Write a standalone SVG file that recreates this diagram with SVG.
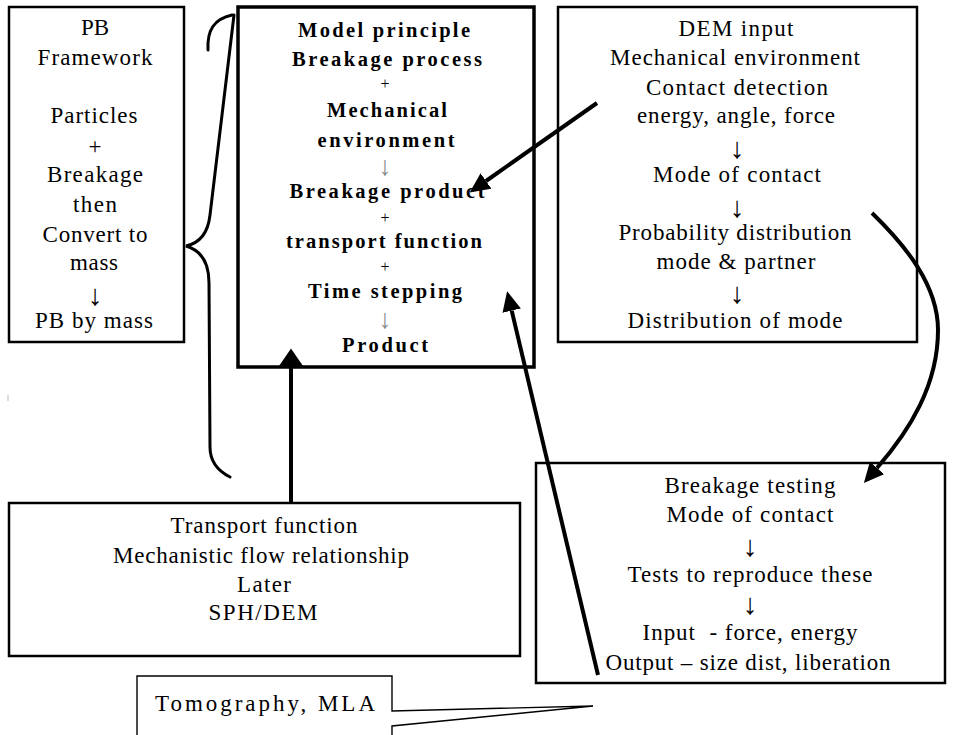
<svg xmlns="http://www.w3.org/2000/svg" width="955" height="735" viewBox="0 0 955 735" font-family="Liberation Serif, Times New Roman, serif">
<style>
.box{fill:#fff;stroke:#000;stroke-width:2.5}
.main{fill:#fff;stroke:#000;stroke-width:3.5}
text{font-family:"Liberation Serif","Times New Roman",serif}
.t{font-size:23px;fill:#000;text-anchor:middle}
.b{font-size:20.5px;font-weight:bold;fill:#000;text-anchor:middle}
.s{font-size:16px;fill:#000;text-anchor:middle}
.g{font-size:27px;fill:#8c8c8c;text-anchor:middle}
.ar{font-size:29px;fill:#000;text-anchor:middle}
.con{fill:none;stroke:#000;stroke-width:4}
.brace{fill:none;stroke:#000;stroke-width:3;stroke-linecap:round}
</style>
<defs>
<marker id="ah" markerUnits="userSpaceOnUse" markerWidth="20" markerHeight="20" refX="0" refY="8" orient="auto" viewBox="0 0 17 16">
<path d="M0,0 L17,8 L0,16 z" fill="#000"/>
</marker>
<marker id="ahBig" markerUnits="userSpaceOnUse" markerWidth="24" markerHeight="24" refX="0" refY="11" orient="auto" viewBox="0 0 16 22">
<path d="M0,0 L16,11 L0,22 z" fill="#000"/>
</marker>
</defs>

<g id="pb-framework">
<rect class="box" x="9" y="7" width="175" height="335"/>
<text class="t" x="95" y="35" textLength="28">PB</text>
<text class="t" x="95" y="65" textLength="115">Framework</text>
<text class="t" x="94" y="123" textLength="87">Particles</text>
<text class="t" x="95" y="154">+</text>
<text class="t" x="95" y="182" textLength="96">Breakage</text>
<text class="t" x="95" y="212" textLength="44">then</text>
<text class="t" x="95" y="242" textLength="105">Convert to</text>
<text class="t" x="94" y="270" textLength="48">mass</text>
<text class="ar" x="95" y="305">↓</text>
<text class="t" x="94" y="328" textLength="118">PB by mass</text>
</g>

<g id="model-principle">
<rect class="main" x="238" y="7" width="296" height="360"/>
<text class="b" x="384" y="37" textLength="172">Model principle</text>
<text class="b" x="387" y="66" textLength="190">Breakage process</text>
<text class="s" x="385" y="89">+</text>
<text class="b" x="387" y="117" textLength="120">Mechanical</text>
<text class="b" x="386" y="147" textLength="137">environment</text>
<text class="g" x="385" y="175">↓</text>
<text class="b" x="387" y="198" textLength="195">Breakage product</text>
<text class="s" x="385" y="223">+</text>
<text class="b" x="384" y="248" textLength="196">transport function</text>
<text class="s" x="385" y="272">+</text>
<text class="b" x="385" y="298" textLength="154">Time stepping</text>
<text class="g" x="385" y="328">↓</text>
<text class="b" x="385" y="352" textLength="86">Product</text>
</g>

<g id="dem-input">
<rect class="box" x="558" y="7" width="359" height="335"/>
<text class="t" x="736" y="36" textLength="115">DEM input</text>
<text class="t" x="735" y="65" textLength="250">Mechanical environment</text>
<text class="t" x="737" y="95" textLength="182">Contact detection</text>
<text class="t" x="736" y="123" textLength="198">energy, angle, force</text>
<text class="ar" x="737" y="158">↓</text>
<text class="t" x="737" y="182" textLength="168">Mode of contact</text>
<text class="ar" x="737" y="217">↓</text>
<text class="t" x="735" y="240" textLength="233">Probability distribution</text>
<text class="t" x="736" y="269" textLength="159">mode &amp; partner</text>
<text class="ar" x="737" y="303">↓</text>
<text class="t" x="735" y="328" textLength="215">Distribution of mode</text>
</g>

<g id="breakage-testing">
<rect class="box" x="536" y="463" width="409" height="220"/>
<text class="t" x="750" y="493" textLength="171">Breakage testing</text>
<text class="t" x="750" y="522" textLength="167">Mode of contact</text>
<text class="ar" x="750" y="556">↓</text>
<text class="t" x="750" y="582" textLength="245">Tests to reproduce these</text>
<text class="ar" x="750" y="614">↓</text>
<text class="t" x="750" y="640" textLength="215" xml:space="preserve">Input  - force, energy</text>
<text class="t" x="748" y="670" textLength="285">Output – size dist, liberation</text>
</g>

<g id="transport-function">
<rect class="box" x="9" y="503" width="511" height="153"/>
<text class="t" x="264" y="533" textLength="187">Transport function</text>
<text class="t" x="261" y="563" textLength="296">Mechanistic flow relationship</text>
<text class="t" x="264" y="592" textLength="54">Later</text>
<text class="t" x="263" y="620" textLength="109">SPH/DEM</text>
</g>

<g id="tomography">
<path d="M137,676 H392 V711 L593,706 L392,726 V745 H137 Z" fill="#fff" stroke="#000" stroke-width="1.4"/>
<text class="t" x="265" y="711" font-size="25" textLength="220">Tomography, MLA</text>
</g>

<g id="brace">
<path class="brace" d="M208,50 C207,30 214,19 232,15"/>
<path class="brace" d="M234,15 L210,215 C208,233 200,243 186,246 C200,250 209,262 209,283 L210,447 C210,462 218,471 230,477"/>
</g>

<g id="connectors">
<path class="con" d="M597,103 L486,181" marker-end="url(#ah)"/>
<path class="con" d="M598,675 L511.7,310.6" marker-end="url(#ah)"/>
<path class="con" d="M291,503 L291,366" stroke-width="5" marker-end="url(#ahBig)"/>
<path class="con" d="M872,213 C905,245 938,285 938,330 C938,385 910,430 877,468" marker-end="url(#ah)"/>
<line x1="8" y1="395" x2="8" y2="401" stroke="#bbb" stroke-width="1"/>
</g>
</svg>
